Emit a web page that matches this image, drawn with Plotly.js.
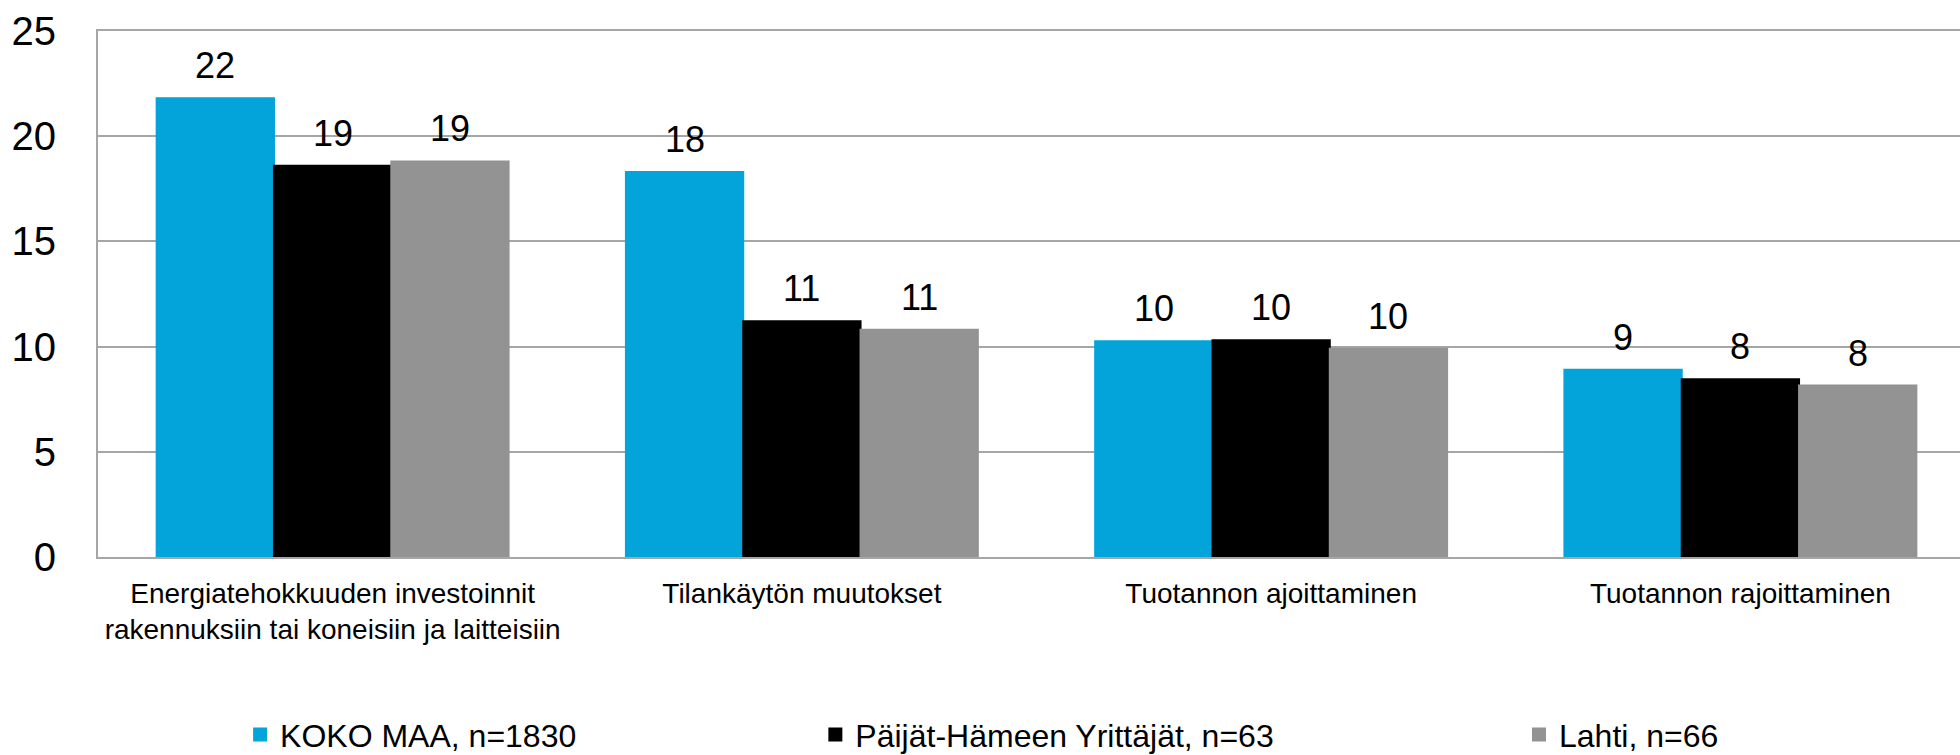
<!DOCTYPE html>
<html>
<head>
<meta charset="utf-8">
<script src="https://cdn.plot.ly/plotly-3.0.1.min.js"></script>
<style>
html,body{margin:0;padding:0;background:#fff;overflow:hidden;}
#chart{width:1960px;height:755px;}
</style>
</head>
<body>
<div id="chart"></div>
<script>
const categories = [
  "Energiatehokkuuden investoinnit<br>rakennuksiin tai koneisiin ja laitteisiin",
  "Tilankäytön muutokset",
  "Tuotannon ajoittaminen",
  "Tuotannon rajoittaminen"
];
const seriesNames = ["KOKO MAA, n=1830", "Päijät-Hämeen Yrittäjät, n=63", "Lahti, n=66"];
const kokoMaa = [21.8, 18.3, 10.25, 8.9];
const paijatHame = [18.6, 11.2, 10.3, 8.45];
const lahti = [18.8, 10.8, 9.9, 8.15];
const seriesValues = [kokoMaa, paijatHame, lahti];
const colors = ["#02a4da", "#000000", "#939393"];
const yTicks = [0, 5, 10, 15, 20, 25];

const FONT = "Liberation Sans, Arial, sans-serif";
const legendIds = ["legend", "legend2", "legend3"];
const legendX = [0.1225, 0.416, 0.775];

const traces = seriesValues.map((vals, s) => ({
  type: "bar",
  name: seriesNames[s],
  x: categories,
  y: vals,
  marker: {color: colors[s], line: {color: colors[s], width: 2}},
  legend: legendIds[s],
  hoverinfo: "skip"
}));

const annotations = [];
seriesValues.forEach((vals, s) => {
  vals.forEach((v, i) => {
    annotations.push({
      x: i + (s - 1) * 0.25,
      y: v,
      xref: "x", yref: "y",
      text: String(Math.round(v)),
      showarrow: false,
      yanchor: "bottom",
      yshift: 10,
      font: {family: FONT, size: 36, color: "#000"}
    });
  });
});

const layout = {
  width: 1960,
  height: 755,
  margin: {l: 98, r: 0, t: 31, b: 197.5},
  paper_bgcolor: "#fff",
  plot_bgcolor: "#fff",
  barmode: "group",
  bargap: 0.25,
  bargroupgap: 0,
  font: {family: FONT, color: "#000"},
  xaxis: {
    type: "category",
    range: [-0.5, 3.468],
    showline: true,
    mirror: true,
    linecolor: "#a6a6a6",
    linewidth: 2,
    ticks: "",
    showgrid: false,
    tickfont: {family: FONT, size: 28, color: "#000"},
    ticklabelstandoff: 10,
    fixedrange: true
  },
  yaxis: {
    range: [0, 25],
    tickvals: yTicks,
    ticktext: yTicks.map(String),
    showline: true,
    linecolor: "#a6a6a6",
    linewidth: 2,
    showgrid: true,
    gridcolor: "#a6a6a6",
    gridwidth: 2,
    zeroline: false,
    ticks: "",
    tickfont: {family: FONT, size: 40, color: "#000"},
    ticklabelstandoff: 32,
    fixedrange: true
  },
  annotations: annotations,
  showlegend: true
};

legendIds.forEach((id, s) => {
  layout[id] = {
    orientation: "h",
    xref: "container", yref: "container",
    x: legendX[s], y: 0.027,
    xanchor: "left", yanchor: "middle",
    bgcolor: "rgba(0,0,0,0)",
    borderwidth: 0,
    font: {family: FONT, size: 32, color: "#000"}
  };
});

Plotly.newPlot("chart", traces, layout, {displayModeBar: false, staticPlot: true});
</script>
</body>
</html>
